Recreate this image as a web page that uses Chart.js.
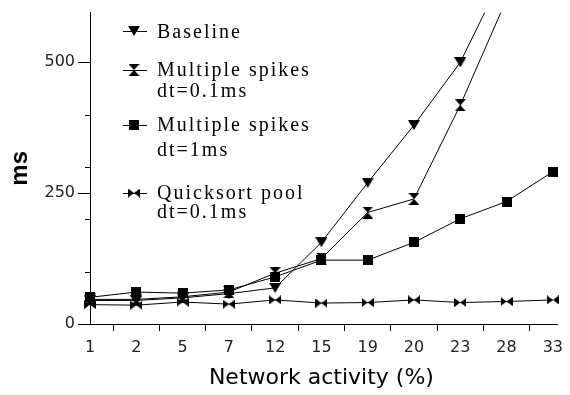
<!DOCTYPE html>
<html>
<head>
<meta charset="utf-8">
<script src="https://cdn.jsdelivr.net/npm/chart.js@4"></script>
<style>
  html, body { margin: 0; padding: 0; background: #fff; }
  #wrap { width: 570px; height: 395px; }
</style>
</head>
<body>
<div id="wrap"><canvas id="chart" width="570" height="395"></canvas></div>
<script>
/* ── data ─────────────────────────────────────── */

const CATEGORIES = ['1', '2', '5', '7', '12', '15', '19', '20', '23', '28', '33'];

const BASELINE   = [45, 45, 50, 58, 69, 156, 270, 380, 500, 680, 900];
const SPIKES_01  = [47, 47, 52, 61, 97, 125, 213, 239, 418, 620, 850];
const SPIKES_1   = [51, 61, 59, 65, 90, 122, 122, 156, 201, 234, 291];
const QUICKSORT  = [37, 36, 42, 38, 46, 40, 41, 46, 41, 43, 46];

const Y_LABELED = [0, 250, 500];
const Y_MINOR   = [100, 200, 300, 400];

const SANS = '"DejaVu Sans", Verdana, sans-serif';

/* ── marker glyphs (drawn once, used as pointStyle) ── */

function glyph(w, h, draw) {
  const c = document.createElement('canvas');
  c.width = w; c.height = h;
  const g = c.getContext('2d');
  g.fillStyle = '#000';
  draw(g, w, h);
  return c;
}

const triDown = glyph(12, 10, (g, w, h) => {
  g.beginPath(); g.moveTo(0, 0); g.lineTo(w, 0); g.lineTo(w / 2, h); g.closePath(); g.fill();
});

const hourglass = glyph(11, 12, (g, w, h) => {
  g.beginPath();
  g.moveTo(0, 0); g.lineTo(w, 0); g.lineTo(w / 2, h / 2); g.closePath();
  g.moveTo(0, h); g.lineTo(w, h); g.lineTo(w / 2, h / 2); g.closePath();
  g.fill();
});

const square = glyph(10, 10, (g, w, h) => { g.fillRect(0, 0, w, h); });

const bowtie = glyph(12, 9, (g, w, h) => {
  g.beginPath();
  g.moveTo(0, 0); g.lineTo(0, h); g.lineTo(w / 2, h / 2); g.closePath();
  g.moveTo(w, 0); g.lineTo(w, h); g.lineTo(w / 2, h / 2); g.closePath();
  g.fill();
});

/* ── legend drawn inside the plot, like the original ── */

const LEGEND_ROWS = [
  { mark: 31,  lines: [38] },
  { mark: 70,  lines: [76, 97] },
  { mark: 125, lines: [131, 156] },
  { mark: 193, lines: [199, 218] }
];

const insideLegend = {
  id: 'insideLegend',
  afterDatasetsDraw(chart) {
    const ctx = chart.ctx;
    ctx.save();
    ctx.font = '20px "Liberation Serif", "Times New Roman", serif';
    ctx.letterSpacing = '2px';
    ctx.fillStyle = '#000';
    ctx.strokeStyle = '#000';
    ctx.lineWidth = 1;
    ctx.textBaseline = 'alphabetic';
    chart.data.datasets.forEach((ds, i) => {
      const row = LEGEND_ROWS[i];
      ctx.beginPath();
      ctx.moveTo(123, row.mark + 0.5);
      ctx.lineTo(147, row.mark + 0.5);
      ctx.stroke();
      const img = ds.pointStyle;
      ctx.drawImage(img, 134 - img.width / 2, row.mark - img.height / 2);
      ds.label.forEach((txt, j) => ctx.fillText(txt, 157, row.lines[j]));
    });
    ctx.restore();
  }
};

/* short unlabelled y ticks, and the x axis running a little past the last category */
const axisExtras = {
  id: 'axisExtras',
  afterDraw(chart) {
    const { x, y } = chart.scales;
    const ctx = chart.ctx;
    ctx.save();
    ctx.strokeStyle = '#000';
    ctx.lineWidth = 1;
    Y_MINOR.forEach(v => {
      const py = Math.round(y.getPixelForValue(v)) + 0.5;
      ctx.beginPath();
      ctx.moveTo(y.right - 5, py);
      ctx.lineTo(y.right, py);
      ctx.stroke();
    });
    const by = Math.round(x.top) + 0.5;
    ctx.beginPath();
    ctx.moveTo(x.right, by);
    ctx.lineTo(x.right + 5, by);
    ctx.stroke();
    ctx.restore();
  }
};

/* ── chart ────────────────────────────────────── */

function series(label, data, style) {
  return {
    label, data,
    borderColor: '#000',
    borderWidth: 1,
    pointStyle: style,
    pointRadius: 6,
    pointHoverRadius: 6,
    fill: false,
    tension: 0
  };
}

new Chart(document.getElementById('chart'), {
  type: 'line',
  data: {
    labels: CATEGORIES,
    datasets: [
      series(['Baseline'], BASELINE, triDown),
      series(['Multiple spikes', 'dt=0.1ms'], SPIKES_01, hourglass),
      series(['Multiple spikes', 'dt=1ms'], SPIKES_1, square),
      series(['Quicksort pool', 'dt=0.1ms'], QUICKSORT, bowtie)
    ]
  },
  plugins: [insideLegend, axisExtras],
  options: {
    responsive: false,
    animation: false,
    layout: { padding: { top: 12, right: 13, left: 0, bottom: 0 } },
    plugins: { legend: { display: false }, tooltip: { enabled: false } },
    scales: {
      x: {
        type: 'category',
        offset: false,
        grid: { display: true, drawOnChartArea: false, offset: true, tickLength: 7, color: '#000' },
        border: { color: '#000', width: 1 },
        ticks: {
          color: '#222', padding: 7, maxRotation: 0, autoSkip: false,
          font: { family: SANS, size: 16 }
        },
        title: {
          display: true, text: 'Network activity (%)', color: '#000',
          padding: { top: 0, bottom: 4 },
          font: { family: SANS, size: 22 }
        },
        afterFit: s => { s.height = 71; }
      },
      y: {
        min: 0, max: 595,
        afterBuildTicks: s => { s.ticks = Y_LABELED.map(v => ({ value: v })); },
        grid: { display: true, drawOnChartArea: false, tickLength: 12, color: '#000' },
        border: { color: '#000', width: 1 },
        ticks: {
          color: '#222', padding: 3,
          font: { family: SANS, size: 16 }
        },
        title: {
          display: true, text: 'ms', color: '#000',
          padding: { top: 6, bottom: 0 },
          font: { family: '"Liberation Sans Narrow", "Liberation Sans", Arial, sans-serif', size: 24, weight: 'bold' }
        },
        afterFit: s => { s.width = 90; }
      }
    }
  }
});
</script>
</body>
</html>
